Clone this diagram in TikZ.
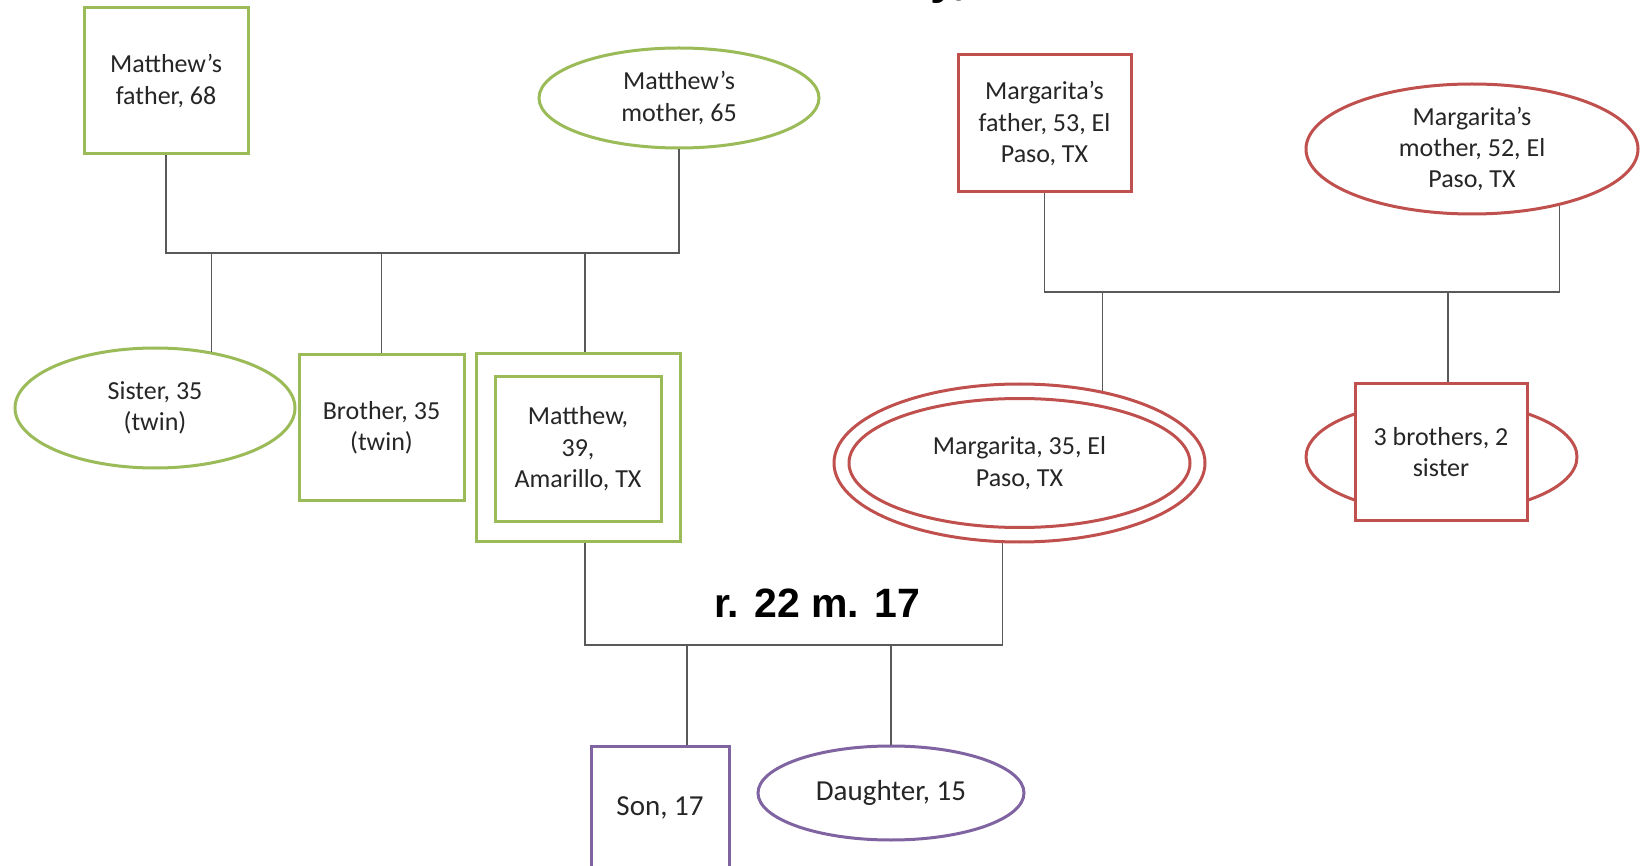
\documentclass[tikz,border=0pt]{standalone}
\usepackage{fontspec}
\setmainfont{Carlito}
\newfontfamily\headfont{Liberation Sans}
\usetikzlibrary{shapes.geometric}
\definecolor{kingreen}{HTML}{9BBB59}
\definecolor{kinred}{HTML}{C0504D}
\definecolor{kinpurple}{HTML}{8064A2}
\definecolor{linkgray}{HTML}{595959}
\begin{document}
\begin{tikzpicture}[x=0.5pt,y=-0.5pt,
  every node/.style={font=\fontsize{13}{15.7}\selectfont, text=black!85, align=center, inner sep=0pt},
  male/.style={draw, rectangle, line width=1.5pt, fill=white},
  female/.style={draw, ellipse, line width=1.5pt, fill=white},
  child/.style={font=\fontsize{14.5}{17}\selectfont},
  link/.style={draw=linkgray, line width=0.75pt},
]
\useasboundingbox (0,0) rectangle (1640,866);
\clip (0,0) rectangle (1640,866);
\fill[white] (0,0) rectangle (1640,866);

% heading, mostly above the page
\node[font=\headfont\bfseries\fontsize{24}{24}\selectfont, text=black, align=none, anchor=base west] (title) at (930,-6) {y,};

% Matthew's side
\node[male, draw=kingreen, minimum width=82pt, minimum height=73pt] (mfa) at (166,81) {Matthew’s\\father, 68};
\node[female, draw=kingreen, minimum width=140pt, minimum height=50pt] (mmo) at (679,98) {Matthew’s\\mother, 65};
\node[female, draw=kingreen, minimum width=140pt, minimum height=60pt] (sis) at (155,408) {Sister, 35\\(twin)};
\node[male, draw=kingreen, minimum width=82.5pt, minimum height=72.5pt] (bro) at (381.5,427.5) {Brother, 35\\(twin)};
\node[male, draw=kingreen, minimum width=102pt, minimum height=93.5pt] (mout) at (578,447.5) {};
\node[male, draw=kingreen, minimum width=83pt, minimum height=72pt] (mat) at (578,449) {Matthew,\\39,\\Amarillo, TX};

% Margarita's side
\node[male, draw=kinred, minimum width=86.5pt, minimum height=68.5pt] (gfa) at (1044.5,123.5) {Margarita’s\\father, 53, El\\Paso, TX};
\node[female, draw=kinred, minimum width=166pt, minimum height=65pt] (gmo) at (1472,149) {Margarita’s\\mother, 52, El\\Paso, TX};
\node[female, draw=kinred, minimum width=185.5pt, minimum height=79pt] (gout) at (1019.5,463) {};
\node[female, draw=kinred, minimum width=170.5pt, minimum height=64.5pt] (mar) at (1019.5,463) {Margarita, 35, El\\Paso, TX};
\node[female, draw=kinred, minimum width=135.5pt, minimum height=56pt] (sibe) at (1441.5,457) {};
\node[male, draw=kinred, minimum width=86pt, minimum height=68pt] (sibs) at (1441,452) {3 brothers, 2\\sister};

% children
\node[male, child, draw=kinpurple, minimum width=69pt, minimum height=62pt] (son) at (660,808) {Son, 17};
\node[female, child, draw=kinpurple, minimum width=133pt, minimum height=47pt] (dau) at (891,793) {Daughter, 15};

% marriage label
\node[font=\headfont\bfseries\fontsize{20.5}{24}\selectfont, text=black] (rm) at (817,603) {r. 22 m. 17};

% Matthew's parents and siblings
\coordinate (mjoin) at (422,253);
\coordinate (mtop) at ([xshift=3.5pt]mout.north);
\draw[link] (mfa.south) -- (mfa.south |- mjoin) -- (mmo.south |- mjoin) -- (mmo.south);
\draw[link] (sis.45.5 |- mjoin) -- (sis.45.5);
\draw[link] (bro.north |- mjoin) -- (bro.north);
\draw[link] (mtop |- mjoin) -- (mtop);

% Margarita's parents and siblings
\coordinate (gjoin) at (1300,292);
\draw[link] (gfa.south) -- (gfa.south |- gjoin) -- (gmo.-33.7 |- gjoin) -- (gmo.-33.7);
\draw[link] (gout.41.8 |- gjoin) -- (gout.41.8);
\coordinate (stop) at ([xshift=3.5pt]sibs.north);
\draw[link] (stop |- gjoin) -- (stop);

% the couple and their children
\coordinate (cjoin) at (800,645);
\coordinate (mbot) at ([xshift=3.5pt]mout.south);
\draw[link] (mbot) -- (mbot |- cjoin) -- (gout.258 |- cjoin) -- (gout.258);
\coordinate (sontop) at ([xshift=13.5pt]son.north);
\draw[link] (sontop |- cjoin) -- (sontop);
\draw[link] (dau.north |- cjoin) -- (dau.north);
\end{tikzpicture}
\end{document}
